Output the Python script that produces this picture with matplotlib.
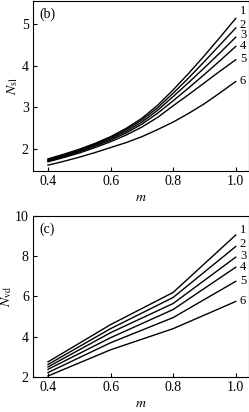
import numpy as np
import matplotlib.pyplot as plt

plt.rcParams['font.family'] = 'Liberation Serif'
plt.rcParams['mathtext.fontset'] = 'stix'
plt.rcParams['font.size'] = 10

# (b) smooth curves
m_b = [0.4, 0.45, 0.5, 0.55, 0.6, 0.65, 0.7, 0.75, 0.8, 0.85, 0.9, 0.95, 1.0]
nsl = [
    [1.77, 1.88, 2.00, 2.14, 2.30, 2.50, 2.74, 3.05, 3.42, 3.82, 4.24, 4.68, 5.13],
    [1.75, 1.86, 1.98, 2.12, 2.28, 2.47, 2.70, 2.99, 3.34, 3.71, 4.10, 4.50, 4.90],
    [1.73, 1.84, 1.96, 2.10, 2.25, 2.43, 2.65, 2.93, 3.26, 3.60, 3.95, 4.31, 4.68],
    [1.72, 1.82, 1.94, 2.07, 2.22, 2.39, 2.60, 2.86, 3.16, 3.47, 3.79, 4.12, 4.46],
    [1.70, 1.80, 1.91, 2.04, 2.18, 2.34, 2.53, 2.76, 3.04, 3.31, 3.59, 3.87, 4.14],
    [1.62, 1.71, 1.81, 1.92, 2.04, 2.16, 2.30, 2.47, 2.65, 2.86, 3.09, 3.35, 3.62],
]

# (c) piecewise lines
m_c = [0.4, 0.6, 0.8, 1.0]
nvd = [
    [2.75, 4.60, 6.20, 9.05],
    [2.62, 4.40, 5.95, 8.48],
    [2.50, 4.20, 5.65, 7.95],
    [2.38, 3.95, 5.35, 7.45],
    [2.22, 3.70, 4.95, 6.75],
    [2.05, 3.35, 4.40, 5.75],
]
labels = ['1', '2', '3', '4', '5', '6']

fig = plt.figure(figsize=(2.49, 4.12), dpi=100)
ax1 = fig.add_axes([0.1325, 0.585, 0.867, 0.413])
ax2 = fig.add_axes([0.1325, 0.085, 0.867, 0.391])


def draw(ax, x, data, ylim, yticks, ylabel, tag, dys):
    for ys, lab, dy in zip(data, labels, dys):
        ax.plot(x, ys, color='black', lw=1.0)
        ax.annotate(lab, (x[-1], ys[-1]), xytext=(3, dy), textcoords='offset points',
                    fontsize=9, va='center', ha='left', annotation_clip=False)
    ax.set_xlim(0.352, 1.042)
    ax.set_ylim(*ylim)
    ax.set_xticks([0.4, 0.6, 0.8, 1.0])
    ax.set_xticklabels(['0.4', '0.6', '0.8', '1.0'])
    ax.set_yticks(yticks)
    ax.tick_params(direction='in', length=3, width=0.8, pad=3)
    ax.set_xlabel(r'$m$', labelpad=2)
    ax.set_ylabel(ylabel, labelpad=1)
    ax.text(0.03, 0.96, tag, transform=ax.transAxes, va='top', ha='left')
    for s in ax.spines.values():
        s.set_linewidth(0.8)


draw(ax1, m_b, nsl, (1.48, 5.55), [2, 3, 4, 5], r'$N_{\rm sl}$', '(b)',
     [5, 2.5, 1.5, 0, 0.5, 0.5])
draw(ax2, m_c, nvd, (2, 10), [2, 4, 6, 8, 10], r'$N_{\rm vd}$', '(c)',
     [3.5, 1.5, 0.5, 0, 0.5, 0])

fig.savefig('out.png', dpi=100)
